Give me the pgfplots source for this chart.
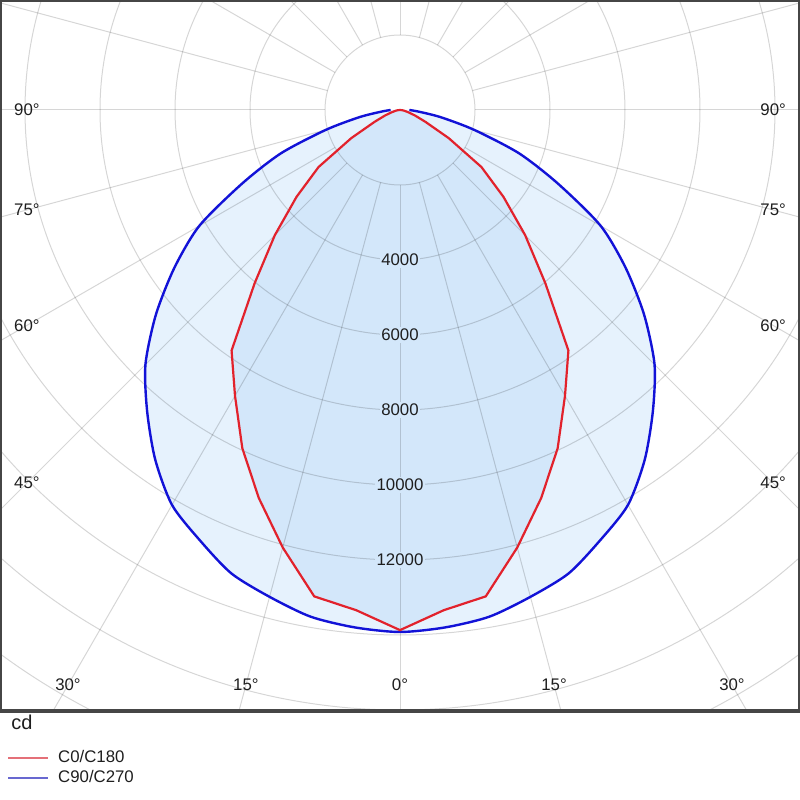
\documentclass[border=0pt]{standalone}
\usepackage{fontspec}
\setmainfont{Liberation Sans}
\usepackage{pgfplots}
\pgfplotsset{compat=1.18}
\definecolor{outerfill}{RGB}{230,242,253}
\definecolor{innerfill}{RGB}{211,231,250}
\definecolor{cblue}{RGB}{18,18,215}
\definecolor{cred}{RGB}{226,34,44}
\definecolor{legred}{RGB}{228,112,120}
\definecolor{legblue}{RGB}{104,104,208}
\definecolor{framec}{RGB}{70,70,70}
\definecolor{txt}{RGB}{30,30,30}
\begin{document}
\begin{tikzpicture}
\begin{axis}[
  scale only axis, width=400pt, height=355.5pt,
  xmin=-10666.67, xmax=10666.67, ymin=-16026.67, ymax=2933.33,
  xtick=\empty, ytick=\empty,
  axis line style={draw=framec, line width=2.4pt},
  axis on top,
  legend cell align=left,
  legend image code/.code={\draw[#1] (0pt,0pt) -- (20pt,0pt); \path (23.8pt,0pt);},
  legend style={at={(axis description cs:0,0)}, anchor=north west,
    xshift=0.5pt, yshift=-17pt, draw=none, fill=none,
    font=\fontsize{8.4}{10}\selectfont, text=txt,
    nodes={inner sep=0.6pt}, row sep=1.1pt},
]
% C90/C270 fill
\addplot[data cs=polar, draw=none, fill=outerfill, forget plot, smooth, tension=0.45] coordinates {
(-180,250) (-175,500) (-170,1100) (-165,2050) (-160,3380) (-155,4650) (-150,6180)
(-145,7350) (-140,8500) (-135,9600) (-130,10490) (-125,11380) (-120,12160)
(-115,12650) (-110,13150) (-105,13440) (-100,13720) (-95,13850) (-90,13920)
(-85,13850) (-80,13720) (-75,13440) (-70,13150) (-65,12650) (-60,12160)
(-55,11380) (-50,10490) (-45,9600) (-40,8500) (-35,7350) (-30,6180)
(-25,4650) (-20,3380) (-15,2050) (-10,1100) (-5,500) (0,250)
} -- cycle;
% C0/C180 fill
\addplot[data cs=polar, draw=none, fill=innerfill, forget plot] coordinates {
(-180,0) (-175,60) (-170,120) (-165,220) (-160,420) (-155,750) (-150,1500)
(-145,2650) (-140,3600) (-135,4720) (-130,6030) (-125,7830) (-120,8800)
(-115,9950) (-110,11010) (-105,12080) (-100,13170) (-95,13390) (-90,13870)
(-85,13390) (-80,13170) (-75,12080) (-70,11010) (-65,9950) (-60,8800)
(-55,7830) (-50,6030) (-45,4720) (-40,3600) (-35,2650) (-30,1500)
(-25,750) (-20,420) (-15,220) (-10,120) (-5,60) (0,0)
} -- cycle;
% grid
\pgfplotsinvokeforeach{0,15,30,45,60,75,90,105,120,135,150,165,180,195,210,225,240,255,270,285,300,315,330,345}{
  \draw[black, opacity=0.16, line width=0.5pt]
    (axis cs:{2000*cos(#1)},{2000*sin(#1)}) -- (axis cs:{30000*cos(#1)},{30000*sin(#1)});
}
\pgfplotsinvokeforeach{2000,4000,6000,8000,10000,12000,14000,16000,18000,20000,22000}{
  \draw[black, opacity=0.16, line width=0.5pt] (axis cs:0,0) circle[radius=#1];
}
% curves
\addplot[data cs=polar, cblue, line width=1.2pt, forget plot, smooth, tension=0.45] coordinates {
(-180,250) (-175,500) (-170,1100) (-165,2050) (-160,3380) (-155,4650) (-150,6180)
(-145,7350) (-140,8500) (-135,9600) (-130,10490) (-125,11380) (-120,12160)
(-115,12650) (-110,13150) (-105,13440) (-100,13720) (-95,13850) (-90,13920)
(-85,13850) (-80,13720) (-75,13440) (-70,13150) (-65,12650) (-60,12160)
(-55,11380) (-50,10490) (-45,9600) (-40,8500) (-35,7350) (-30,6180)
(-25,4650) (-20,3380) (-15,2050) (-10,1100) (-5,500) (0,250)
};
\addplot[data cs=polar, cred, line width=1.1pt, forget plot] coordinates {
(-180,0) (-175,60) (-170,120) (-165,220) (-160,420) (-155,750) (-150,1500)
(-145,2650) (-140,3600) (-135,4720) (-130,6030) (-125,7830) (-120,8800)
(-115,9950) (-110,11010) (-105,12080) (-100,13170) (-95,13390) (-90,13870)
(-85,13390) (-80,13170) (-75,12080) (-70,11010) (-65,9950) (-60,8800)
(-55,7830) (-50,6030) (-45,4720) (-40,3600) (-35,2650) (-30,1500)
(-25,750) (-20,420) (-15,220) (-10,120) (-5,60) (0,0)
};
\addlegendimage{legred, line width=1pt}
\addlegendentry{C0/C180}
\addlegendimage{legblue, line width=1pt}
\addlegendentry{C90/C270}
% radius labels
\pgfplotsinvokeforeach{4000,6000,8000,10000,12000}{
  \node[fill=innerfill, inner sep=0.8pt, text=txt, font=\fontsize{8.4}{10}\selectfont] at (axis cs:0,-#1) {#1};
}
% angle labels
\begin{scope}[every node/.style={text=txt, font=\fontsize{8.4}{10}\selectfont, inner sep=0pt}]
\node at (axis cs:-9950,0) {90°};
\node at (axis cs:9950,0) {90°};
\node at (axis cs:-9950,-2666) {75°};
\node at (axis cs:9950,-2666) {75°};
\node at (axis cs:-9950,-5745) {60°};
\node at (axis cs:9950,-5745) {60°};
\node at (axis cs:-9950,-9950) {45°};
\node at (axis cs:9950,-9950) {45°};
\node at (axis cs:-8853,-15333) {30°};
\node at (axis cs:8853,-15333) {30°};
\node at (axis cs:-4108,-15333) {15°};
\node at (axis cs:4108,-15333) {15°};
\node at (axis cs:0,-15333) {0°};
\end{scope}
\end{axis}
\node[anchor=west, inner sep=0pt, xshift=5.5pt, yshift=-5.8pt, text=txt, font=\fontsize{10}{12}\selectfont] at (current axis.south west) {cd};
\pgfresetboundingbox
\path (current axis.south west) ++(0pt,-44.5pt) rectangle (current axis.north east);
\end{tikzpicture}
\end{document}
